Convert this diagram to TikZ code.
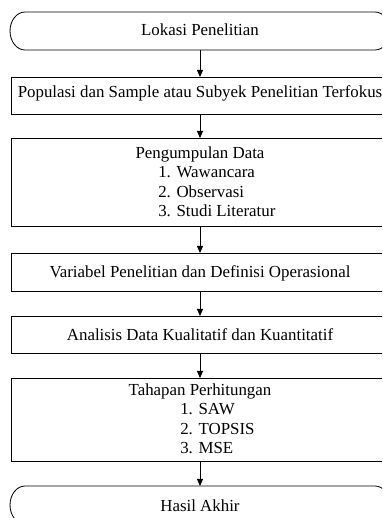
\documentclass[tikz,border=0pt]{standalone}
\usepackage{fontspec}
\setmainfont{Liberation Serif}
\usetikzlibrary{arrows.meta,fit}
\begin{document}
\begin{tikzpicture}[x=0.711pt,y=-0.711pt,
 frame/.style={draw=black,line width=0.6pt,inner sep=0pt,outer sep=0pt},
 shell/.style={inner sep=0pt,outer sep=0pt},
 outline/.style={draw=black,line width=0.6pt},
 lbl/.style={anchor=base,inner sep=0pt,font=\fontsize{12}{13.8}\selectfont},
 lblw/.style={anchor=base west,inner sep=0pt,font=\fontsize{12}{13.8}\selectfont},
 arr/.style={draw=black,line width=0.6pt,-{Triangle[width=4.3pt,length=5pt]}}]
\clip (0,0) rectangle (382,518);
% terminators (outline nodes)
\node[shell,fit={(10,12) (390,50)}] (t1) {};
\draw[outline] (25,12) -- (375,12) .. controls (383.3,12) and (390,20.5) .. (390,31)
  .. controls (390,41.5) and (383.3,50) .. (375,50) -- (25,50)
  .. controls (16.7,50) and (10,41.5) .. (10,31)
  .. controls (10,20.5) and (16.7,12) .. (25,12) -- cycle;
\node[shell,fit={(10,486) (390,524)}] (t2) {};
\draw[outline] (25,486) -- (375,486) .. controls (383.3,486) and (390,494.5) .. (390,505)
  .. controls (390,515.5) and (383.3,524) .. (375,524) -- (25,524)
  .. controls (16.7,524) and (10,515.5) .. (10,505)
  .. controls (10,494.5) and (16.7,486) .. (25,486) -- cycle;
% boxes
\node[frame,fit={(11,77) (389,114)}] (b2) {};
\node[frame,fit={(11,138) (389,226)}] (b3) {};
\node[frame,fit={(11,253) (389,291)}] (b4) {};
\node[frame,fit={(11,316) (389,353)}] (b5) {};
\node[frame,fit={(11,378) (389,461)}] (b6) {};
% texts
\node[lbl] (l1) at (200,36) {Lokasi Penelitian};
\node[lbl] (l2) at (200,98) {Populasi dan Sample atau Subyek Penelitian Terfokus};
\node[lbl] (l3) at (200,158) {Pengumpulan Data};
\node[lblw] (l3a) at (158,177.5) {1. Wawancara};
\node[lblw] (l3b) at (158,197) {2. Observasi};
\node[lblw] (l3c) at (158,216.5) {3. Studi Literatur};
\node[lbl] (l4) at (200,277) {Variabel Penelitian dan Definisi Operasional};
\node[lbl] (l5) at (200,340) {Analisis Data Kualitatif dan Kuantitatif};
\node[lbl] (l6) at (200,395) {Tahapan Perhitungan};
\node[lblw] (l6a) at (180,414.5) {1. SAW};
\node[lblw] (l6b) at (180,434) {2. TOPSIS};
\node[lblw] (l6c) at (180,453.5) {3. MSE};
\node[lbl] (l7) at (200,511) {Hasil Akhir};
% connectors
\draw[arr] (t1) -- (b2);
\draw[arr] (b2) -- (b3);
\draw[arr] (b3) -- (b4);
\draw[arr] (b4) -- (b5);
\draw[arr] (b5) -- (b6);
\draw[arr] (b6) -- (t2);
\end{tikzpicture}
\end{document}
